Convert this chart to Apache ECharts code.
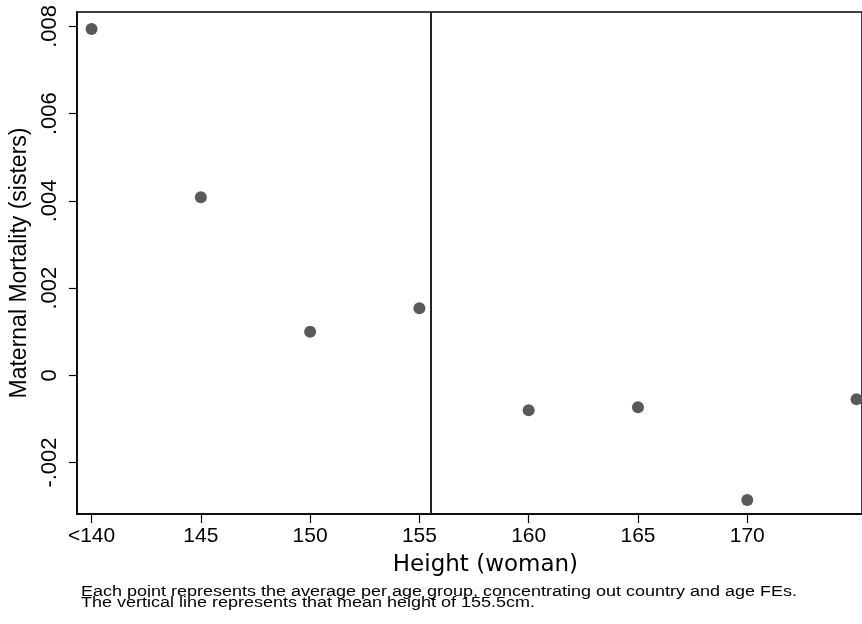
<!DOCTYPE html>
<html>
<head>
<meta charset="utf-8">
<script src="https://cdn.jsdelivr.net/npm/echarts@6/dist/echarts.min.js"></script>
<style>
html,body{margin:0;padding:0;background:#fff;}
#chart{width:862px;height:624px;}
</style>
</head>
<body>
<div id="chart"></div>
<script>
// Data
const heights = [140, 145, 150, 155, 160, 165, 170, 175];
const mortality = [0.00794, 0.00408, 0.00100, 0.00154, -0.00080, -0.00073, -0.00286, -0.00055];
const xTicks = [140, 145, 150, 155, 160, 165, 170];
const xTickLabels = ['<140', '145', '150', '155', '160', '165', '170'];
const yTicks = [-0.002, 0, 0.002, 0.004, 0.006, 0.008];
const yTickLabels = ['-.002', '0', '.002', '.004', '.006', '.008'];
const meanHeight = 155.5;
const noteLines = [
  'Each point represents the average per age group, concentrating out country and age FEs.',
  'The vertical line represents that mean height of 155.5cm.'
];

const FONT = 'Liberation Sans, Arial, Helvetica, sans-serif';
const chart = echarts.init(document.getElementById('chart'), null, {renderer: 'canvas'});
chart.setOption({
  backgroundColor: '#ffffff',
  animation: false,
  grid: {left: 76, top: 12, right: 0, bottom: 110, show: true, borderColor: '#000', borderWidth: 1.5, backgroundColor: 'transparent'},
  xAxis: {
    type: 'value',
    min: 139.33,
    max: 175.25,
    name: 'Height (woman)',
    nameLocation: 'middle',
    nameGap: 40,
    nameTextStyle: {fontFamily: 'DejaVu Sans, sans-serif', fontSize: 23, color: '#000', padding: [0, 0, 0, 32]},
    axisLine: {show: true, onZero: false, lineStyle: {color: '#000', width: 1.5}},
    axisTick: {show: true, length: 9, lineStyle: {color: '#000', width: 1.2}, customValues: xTicks},
    axisLabel: {
      fontFamily: FONT, fontSize: 21, color: '#000', margin: 12,
      customValues: xTicks,
      formatter: v => { const i = xTicks.indexOf(v); return i >= 0 ? xTickLabels[i] : ''; }
    },
    splitLine: {show: false}
  },
  yAxis: {
    type: 'value',
    min: -0.00318,
    max: 0.00833,
    name: 'Maternal Mortality (sisters)',
    nameLocation: 'middle',
    nameGap: 42,
    nameRotate: 90,
    nameTextStyle: {fontFamily: FONT, fontSize: 23, color: '#000'},
    axisLine: {show: true, onZero: false, lineStyle: {color: '#000', width: 1.5}},
    axisTick: {show: true, length: 8, lineStyle: {color: '#000', width: 1.2}, customValues: yTicks},
    axisLabel: {
      fontFamily: FONT, fontSize: 22, color: '#000', margin: 16, rotate: 90,
      customValues: yTicks,
      formatter: v => {
        let best = -1, bd = Infinity;
        yTicks.forEach((t, i) => { const d = Math.abs(t - v); if (d < bd) { bd = d; best = i; } });
        return bd < 1e-7 ? yTickLabels[best] : '';
      }
    },
    splitLine: {show: false}
  },
  series: [{
    type: 'scatter',
    data: heights.map((h, i) => [h, mortality[i]]),
    symbol: 'circle',
    symbolSize: 12,
    itemStyle: {color: '#595959', opacity: 1},
    markLine: {
      silent: true,
      symbol: ['none', 'none'],
      label: {show: false},
      lineStyle: {color: '#222', width: 2, type: 'solid'},
      data: [{xAxis: meanHeight}]
    }
  }],
  graphic: [{
    type: 'text',
    x: 81,
    y: 587,
    scaleX: 1.285,
    style: {
      text: noteLines.join('\n'),
      fontFamily: FONT,
      fontSize: 14,
      lineHeight: 11,
      fill: '#000'
    }
  }]
});
</script>
</body>
</html>
